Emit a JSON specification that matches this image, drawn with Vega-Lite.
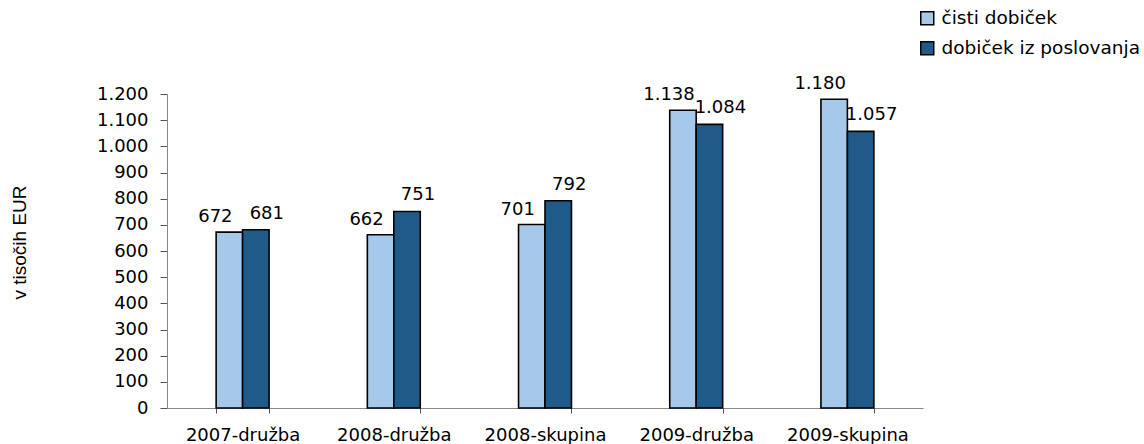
{
  "$schema": "https://vega.github.io/schema/vega-lite/v6.json",
  "width": 756,
  "height": 314,
  "autosize": "none",
  "padding": {"left": 167, "top": 94, "right": 221, "bottom": 36},
  "background": "white",
  "config": {
    "view": {"stroke": null},
    "locale": {"number": {"decimal": ",", "thousands": ".", "grouping": [3], "currency": ["", " €"]}},
    "font": "DejaVu Sans"
  },
  "data": {
    "values": [
      {"kategorija": "2007-družba", "serija": "čisti dobiček", "vrednost": 672},
      {"kategorija": "2007-družba", "serija": "dobiček iz poslovanja", "vrednost": 681},
      {"kategorija": "2008-družba", "serija": "čisti dobiček", "vrednost": 662},
      {"kategorija": "2008-družba", "serija": "dobiček iz poslovanja", "vrednost": 751},
      {"kategorija": "2008-skupina", "serija": "čisti dobiček", "vrednost": 701},
      {"kategorija": "2008-skupina", "serija": "dobiček iz poslovanja", "vrednost": 792},
      {"kategorija": "2009-družba", "serija": "čisti dobiček", "vrednost": 1138},
      {"kategorija": "2009-družba", "serija": "dobiček iz poslovanja", "vrednost": 1084},
      {"kategorija": "2009-skupina", "serija": "čisti dobiček", "vrednost": 1180},
      {"kategorija": "2009-skupina", "serija": "dobiček iz poslovanja", "vrednost": 1057}
    ]
  },
  "encoding": {
    "x": {
      "field": "kategorija", "type": "nominal", "sort": null,
      "scale": {"paddingInner": 0.65, "paddingOuter": 0.325},
      "axis": {
        "title": null, "labelAngle": 0, "labelFont": "DejaVu Sans", "labelFontSize": 18,
        "labelColor": "#000", "domainColor": "#888", "tickColor": "#555", "tickSize": 5,
        "tickBand": "extent", "labelBaseline": "alphabetic", "labelPadding": 27, "labelLimit": 300
      }
    },
    "xOffset": {"field": "serija", "type": "nominal", "sort": ["čisti dobiček", "dobiček iz poslovanja"]},
    "y": {
      "field": "vrednost", "type": "quantitative",
      "scale": {"domain": [0, 1200], "nice": false},
      "axis": {
        "values": [0,100,200,300,400,500,600,700,800,900,1000,1100,1200],
        "format": ",d", "grid": false, "domainColor": "#888", "tickColor": "#555",
        "tickSize": 7, "labelPadding": 12, "labelFont": "DejaVu Sans", "labelFontSize": 18,
        "labelColor": "#000",
        "title": "v tisočih EUR", "titleFont": "Liberation Sans", "titleFontSize": 19,
        "titleFontWeight": "normal", "titleColor": "#000", "titleAngle": -90,
        "titleX": -148, "titleY": 148, "titleAlign": "center", "titleBaseline": "middle"
      }
    }
  },
  "layer": [
    {
      "mark": {"type": "bar", "stroke": "#000", "strokeWidth": 1.6},
      "encoding": {
        "color": {
          "field": "serija", "type": "nominal",
          "scale": {"domain": ["čisti dobiček", "dobiček iz poslovanja"], "range": ["#A6C9EA", "#1F5A88"]},
          "legend": {
            "title": null, "orient": "none", "legendX": 751, "legendY": -85,
            "symbolType": "square", "symbolSize": 169, "symbolStrokeColor": "#000",
            "symbolStrokeWidth": 1.5, "labelFont": "DejaVu Sans", "labelFontSize": 18.5,
            "labelColor": "#000", "rowPadding": 10, "labelOffset": 5, "labelLimit": 400
          }
        }
      }
    },
    {
      "transform": [{"filter": "datum.serija === 'čisti dobiček'"}],
      "mark": {"type": "text", "font": "DejaVu Sans", "fontSize": 18, "color": "#000", "baseline": "alphabetic", "dx": -14, "dy": -10},
      "encoding": {"text": {"field": "vrednost", "type": "quantitative", "format": ",d"}}
    },
    {
      "transform": [{"filter": "datum.serija === 'dobiček iz poslovanja'"}],
      "mark": {"type": "text", "font": "DejaVu Sans", "fontSize": 18, "color": "#000", "baseline": "alphabetic", "dx": 11, "dy": -11},
      "encoding": {"text": {"field": "vrednost", "type": "quantitative", "format": ",d"}}
    }
  ]
}
